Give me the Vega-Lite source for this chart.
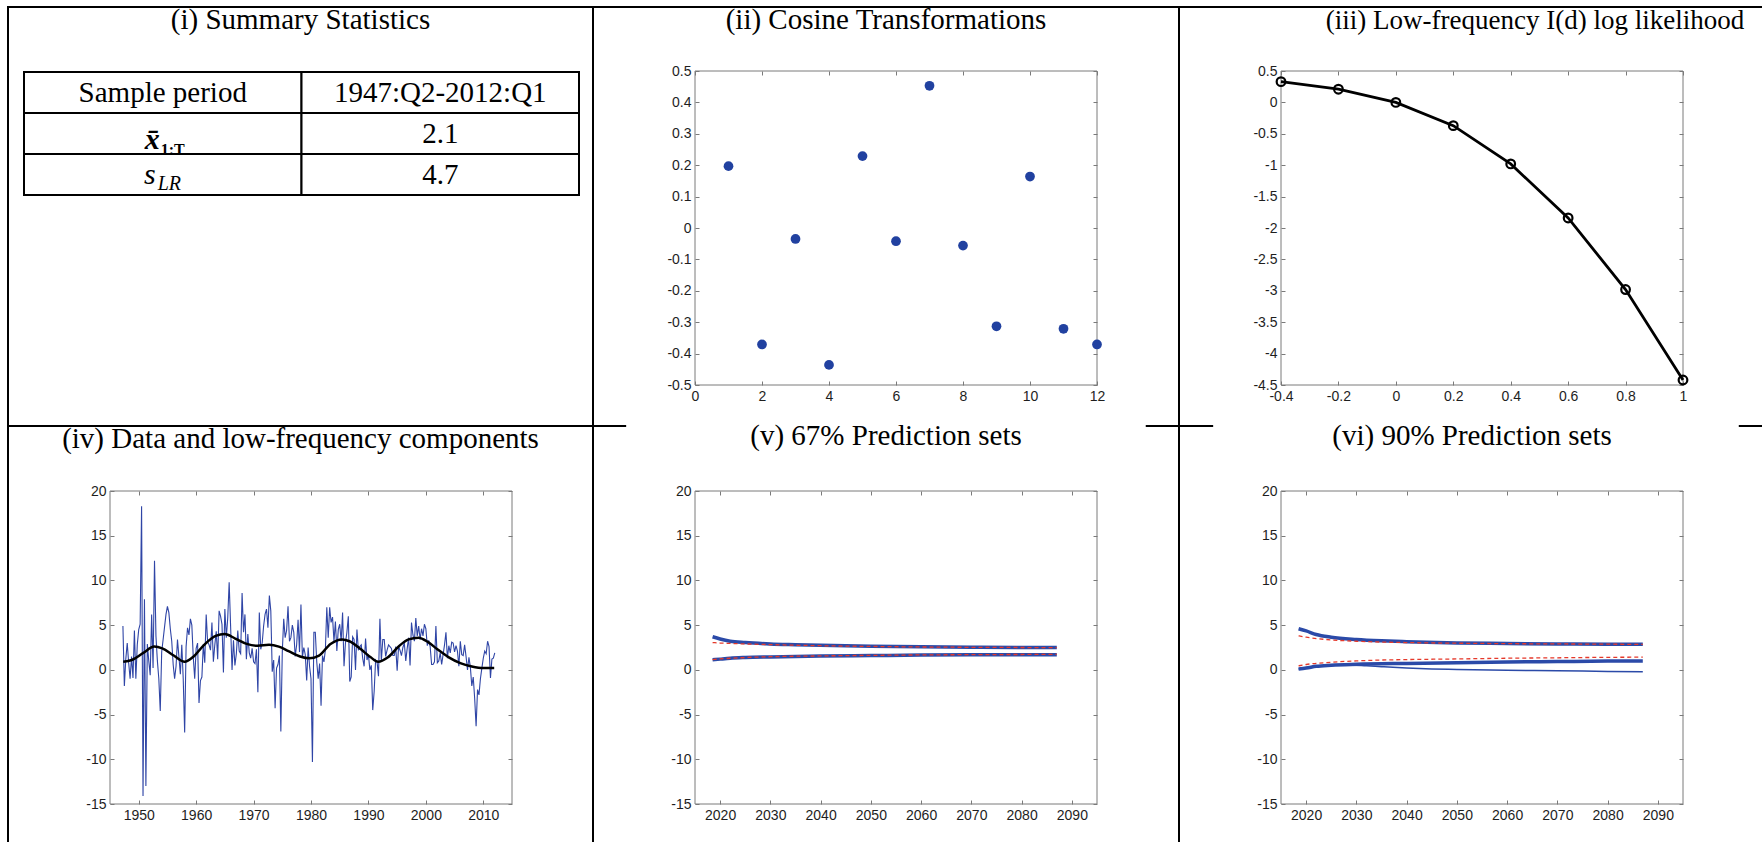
{
  "$schema": "https://vega.github.io/schema/vega-lite/v6.json",
  "background": "white",
  "padding": {"left": 7, "top": 5, "right": 0, "bottom": 0},
  "config": {
    "view": {"stroke": "black", "strokeWidth": 2, "fill": "white"},
    "axis": {"grid": false, "domain": false, "tickColor": "#7a7a7a", "tickSize": -4, "tickWidth": 1, "labelFont": "Liberation Sans", "labelFontSize": 14, "labelColor": "#1e1e1e", "labelPadding": 8, "labelFlush": false, "labelOverlap": false, "format": "~g"},
    "title": {"font": "Liberation Serif", "fontSize": 29, "fontWeight": "normal", "color": "black", "anchor": "middle", "frame": "group", "baseline": "alphabetic", "offset": -28}
  },
  "datasets": {
    "table": [
      {"row": "period", "col": "label", "kind": "plain", "text": "Sample period"},
      {"row": "period", "col": "value", "kind": "plain", "text": "1947:Q2-2012:Q1"},
      {"row": "mean", "col": "label", "kind": "xbar", "text": "x\u0304", "sub": "1:T"},
      {"row": "mean", "col": "value", "kind": "plain", "text": "2.1"},
      {"row": "slr", "col": "label", "kind": "slr", "text": "s", "sub": "LR"},
      {"row": "slr", "col": "value", "kind": "plain", "text": "4.7"}
    ],
    "cosine": [
      {"j": 1, "v": 0.197}, {"j": 2, "v": -0.371}, {"j": 3, "v": -0.035}, {"j": 4, "v": -0.436},
      {"j": 5, "v": 0.229}, {"j": 6, "v": -0.042}, {"j": 7, "v": 0.453}, {"j": 8, "v": -0.056},
      {"j": 9, "v": -0.313}, {"j": 10, "v": 0.164}, {"j": 11, "v": -0.321}, {"j": 12, "v": -0.371}
    ],
    "loglik": [
      {"d": -0.4, "ll": 0.33}, {"d": -0.2, "ll": 0.21}, {"d": 0, "ll": 0}, {"d": 0.2, "ll": -0.37},
      {"d": 0.4, "ll": -0.98}, {"d": 0.6, "ll": -1.84}, {"d": 0.8, "ll": -2.98}, {"d": 1, "ll": -4.42}
    ],
    "growth": [
      {"t":1947.25,"v":4.9},{"t":1947.5,"v":-1.8},{"t":1947.75,"v":1.2},
      {"t":1948,"v":3.0},{"t":1948.25,"v":0.8},{"t":1948.5,"v":-1.0},{"t":1948.75,"v":1.5},
      {"t":1949,"v":-0.9},{"t":1949.25,"v":4.4},{"t":1949.5,"v":-1.0},{"t":1949.75,"v":2.8},
      {"t":1950,"v":4.5},{"t":1950.25,"v":5.1},{"t":1950.5,"v":18.3},{"t":1950.75,"v":-14.1},
      {"t":1951,"v":7.9},{"t":1951.25,"v":-13.0},{"t":1951.5,"v":2.9},{"t":1951.75,"v":1.0},
      {"t":1952,"v":-0.6},{"t":1952.25,"v":6.2},{"t":1952.5,"v":0.2},{"t":1952.75,"v":12.2},
      {"t":1953,"v":3.8},{"t":1953.25,"v":1.0},{"t":1953.5,"v":-1.0},{"t":1953.75,"v":-4.6},
      {"t":1954,"v":2.0},{"t":1954.25,"v":3.4},{"t":1954.5,"v":4.8},{"t":1954.75,"v":6.2},
      {"t":1955,"v":7.1},{"t":1955.25,"v":6.4},{"t":1955.5,"v":4.6},{"t":1955.75,"v":3.2},
      {"t":1956,"v":0.6},{"t":1956.25,"v":-1.0},{"t":1956.5,"v":0.4},{"t":1956.75,"v":3.4},
      {"t":1957,"v":1.5},{"t":1957.25,"v":-0.5},{"t":1957.5,"v":2.8},{"t":1957.75,"v":-1.0},
      {"t":1958,"v":-7.0},{"t":1958.25,"v":2.6},{"t":1958.5,"v":4.7},{"t":1958.75,"v":3.9},
      {"t":1959,"v":5.7},{"t":1959.25,"v":5.0},{"t":1959.5,"v":1.4},{"t":1959.75,"v":-1.0},
      {"t":1960,"v":2.4},{"t":1960.25,"v":3.0},{"t":1960.5,"v":-3.7},{"t":1960.75,"v":-1.2},
      {"t":1961,"v":-0.8},{"t":1961.25,"v":2.9},{"t":1961.5,"v":0.8},{"t":1961.75,"v":6.2},
      {"t":1962,"v":3.1},{"t":1962.25,"v":2.8},{"t":1962.5,"v":2.2},{"t":1962.75,"v":5.3},
      {"t":1963,"v":0.9},{"t":1963.25,"v":2.8},{"t":1963.5,"v":4.3},{"t":1963.75,"v":1.2},
      {"t":1964,"v":6.6},{"t":1964.25,"v":6.0},{"t":1964.5,"v":5.1},{"t":1964.75,"v":-0.3},
      {"t":1965,"v":6.8},{"t":1965.25,"v":3.6},{"t":1965.5,"v":5.8},{"t":1965.75,"v":9.8},
      {"t":1966,"v":4.9},{"t":1966.25,"v":0.0},{"t":1966.5,"v":3.3},{"t":1966.75,"v":0.5},
      {"t":1967,"v":1.8},{"t":1967.25,"v":4.4},{"t":1967.5,"v":2.1},{"t":1967.75,"v":1.8},
      {"t":1968,"v":8.6},{"t":1968.25,"v":4.2},{"t":1968.5,"v":6.2},{"t":1968.75,"v":1.2},
      {"t":1969,"v":4.0},{"t":1969.25,"v":1.9},{"t":1969.5,"v":1.3},{"t":1969.75,"v":2.4},
      {"t":1970,"v":0.9},{"t":1970.25,"v":0.7},{"t":1970.5,"v":2.3},{"t":1970.75,"v":-2.5},
      {"t":1971,"v":6.4},{"t":1971.25,"v":2.3},{"t":1971.5,"v":3.0},{"t":1971.75,"v":4.9},
      {"t":1972,"v":6.2},{"t":1972.25,"v":6.8},{"t":1972.5,"v":4.7},{"t":1972.75,"v":8.3},
      {"t":1973,"v":6.6},{"t":1973.25,"v":-0.2},{"t":1973.5,"v":1.1},{"t":1973.75,"v":-4.3},
      {"t":1974,"v":0.2},{"t":1974.25,"v":0.6},{"t":1974.5,"v":1.6},{"t":1974.75,"v":-6.9},
      {"t":1975,"v":2.0},{"t":1975.25,"v":5.7},{"t":1975.5,"v":3.6},{"t":1975.75,"v":4.4},
      {"t":1976,"v":7.1},{"t":1976.25,"v":3.2},{"t":1976.5,"v":3.6},{"t":1976.75,"v":5.0},
      {"t":1977,"v":4.2},{"t":1977.25,"v":1.5},{"t":1977.5,"v":2.8},{"t":1977.75,"v":5.6},
      {"t":1978,"v":2.0},{"t":1978.25,"v":7.3},{"t":1978.5,"v":1.4},{"t":1978.75,"v":2.5},
      {"t":1979,"v":1.7},{"t":1979.25,"v":-1.2},{"t":1979.5,"v":2.5},{"t":1979.75,"v":0.4},
      {"t":1980,"v":-1.0},{"t":1980.25,"v":-10.3},{"t":1980.5,"v":4.2},{"t":1980.75,"v":4.2},
      {"t":1981,"v":0.9},{"t":1981.25,"v":-1.0},{"t":1981.5,"v":0.7},{"t":1981.75,"v":-4.0},
      {"t":1982,"v":1.6},{"t":1982.25,"v":0.9},{"t":1982.5,"v":2.2},{"t":1982.75,"v":7.0},
      {"t":1983,"v":3.6},{"t":1983.25,"v":7.0},{"t":1983.5,"v":5.3},{"t":1983.75,"v":5.9},
      {"t":1984,"v":3.2},{"t":1984.25,"v":5.4},{"t":1984.5,"v":2.1},{"t":1984.75,"v":4.5},
      {"t":1985,"v":5.1},{"t":1985.25,"v":3.2},{"t":1985.5,"v":6.4},{"t":1985.75,"v":0.4},
      {"t":1986,"v":3.0},{"t":1986.25,"v":4.2},{"t":1986.5,"v":6.0},{"t":1986.75,"v":-1.3},
      {"t":1987,"v":-0.8},{"t":1987.25,"v":3.7},{"t":1987.5,"v":3.4},{"t":1987.75,"v":0.0},
      {"t":1988,"v":4.5},{"t":1988.25,"v":2.2},{"t":1988.5,"v":2.6},{"t":1988.75,"v":2.8},
      {"t":1989,"v":1.3},{"t":1989.25,"v":0.4},{"t":1989.5,"v":3.5},{"t":1989.75,"v":1.1},
      {"t":1990,"v":1.7},{"t":1990.25,"v":0.0},{"t":1990.5,"v":0.5},{"t":1990.75,"v":-4.5},
      {"t":1991,"v":-2.4},{"t":1991.25,"v":1.1},{"t":1991.5,"v":0.9},{"t":1991.75,"v":-0.7},
      {"t":1992,"v":5.7},{"t":1992.25,"v":1.0},{"t":1992.5,"v":3.4},{"t":1992.75,"v":3.4},
      {"t":1993,"v":1.5},{"t":1993.25,"v":2.2},{"t":1993.5,"v":2.8},{"t":1993.75,"v":2.6},
      {"t":1994,"v":2.4},{"t":1994.25,"v":1.6},{"t":1994.5,"v":1.6},{"t":1994.75,"v":2.6},
      {"t":1995,"v":-0.1},{"t":1995.25,"v":2.6},{"t":1995.5,"v":2.2},{"t":1995.75,"v":1.6},
      {"t":1996,"v":2.5},{"t":1996.25,"v":3.0},{"t":1996.5,"v":1.0},{"t":1996.75,"v":2.4},
      {"t":1997,"v":3.6},{"t":1997.25,"v":0.5},{"t":1997.5,"v":5.3},{"t":1997.75,"v":3.9},
      {"t":1998,"v":3.2},{"t":1998.25,"v":5.8},{"t":1998.5,"v":3.8},{"t":1998.75,"v":4.9},
      {"t":1999,"v":3.4},{"t":1999.25,"v":4.6},{"t":1999.5,"v":3.8},{"t":1999.75,"v":5.1},
      {"t":2000,"v":4.6},{"t":2000.25,"v":2.7},{"t":2000.5,"v":3.3},{"t":2000.75,"v":2.6},
      {"t":2001,"v":0.6},{"t":2001.25,"v":0.6},{"t":2001.5,"v":0.9},{"t":2001.75,"v":4.9},
      {"t":2002,"v":0.8},{"t":2002.25,"v":1.0},{"t":2002.5,"v":1.9},{"t":2002.75,"v":0.6},
      {"t":2003,"v":1.7},{"t":2003.25,"v":2.8},{"t":2003.5,"v":4.2},{"t":2003.75,"v":1.3},
      {"t":2004,"v":2.7},{"t":2004.25,"v":1.9},{"t":2004.5,"v":3.1},{"t":2004.75,"v":3.0},
      {"t":2005,"v":2.0},{"t":2005.25,"v":2.7},{"t":2005.5,"v":2.1},{"t":2005.75,"v":0.4},
      {"t":2006,"v":3.2},{"t":2006.25,"v":1.7},{"t":2006.5,"v":1.6},{"t":2006.75,"v":2.8},
      {"t":2007,"v":1.5},{"t":2007.25,"v":0.0},{"t":2007.5,"v":1.4},{"t":2007.75,"v":0.3},
      {"t":2008,"v":-1.8},{"t":2008.25,"v":-0.8},{"t":2008.5,"v":-3.2},{"t":2008.75,"v":-6.3},
      {"t":2009,"v":-2.2},{"t":2009.25,"v":-2.8},{"t":2009.5,"v":-1.0},{"t":2009.75,"v":0.2},
      {"t":2010,"v":1.3},{"t":2010.25,"v":2.1},{"t":2010.5,"v":1.8},{"t":2010.75,"v":3.2},
      {"t":2011,"v":2.6},{"t":2011.25,"v":-0.9},{"t":2011.5,"v":1.2},{"t":2011.75,"v":1.3},
      {"t":2012,"v":1.9}
    ],
    "trend": [
      {"t":1947.3,"v":0.9},{"t":1948.8,"v":1.1},{"t":1950.8,"v":1.9},{"t":1952.7,"v":2.6},
      {"t":1954.1,"v":2.4},{"t":1956.1,"v":1.6},{"t":1958.0,"v":0.9},{"t":1959.4,"v":1.4},
      {"t":1961.4,"v":2.8},{"t":1963.4,"v":3.8},{"t":1965.0,"v":4.0},{"t":1966.8,"v":3.5},
      {"t":1968.8,"v":2.9},{"t":1970.7,"v":2.7},{"t":1972.7,"v":2.8},{"t":1974.4,"v":2.6},
      {"t":1976.1,"v":2.1},{"t":1978.1,"v":1.5},{"t":1979.7,"v":1.3},{"t":1981.4,"v":1.6},
      {"t":1983.4,"v":2.9},{"t":1985.4,"v":3.4},{"t":1986.7,"v":3.2},{"t":1988.7,"v":2.3},
      {"t":1990.4,"v":1.4},{"t":1991.7,"v":0.9},{"t":1993.4,"v":1.4},{"t":1995.4,"v":2.7},
      {"t":1997.0,"v":3.4},{"t":1998.7,"v":3.6},{"t":2000.4,"v":3.1},{"t":2002.0,"v":2.3},
      {"t":2004.0,"v":1.4},{"t":2006.0,"v":0.75},{"t":2008.0,"v":0.38},{"t":2010.0,"v":0.2},
      {"t":2011.9,"v":0.2}
    ],
    "pred67": [
      {"s":"bu","t":2018.5,"v":3.7},{"s":"bu","t":2020,"v":3.45},{"s":"bu","t":2022,"v":3.2},{"s":"bu","t":2025,"v":3.05},{"s":"bu","t":2030,"v":2.9},{"s":"bu","t":2035,"v":2.82},{"s":"bu","t":2040,"v":2.75},{"s":"bu","t":2050,"v":2.65},{"s":"bu","t":2060,"v":2.58},{"s":"bu","t":2070,"v":2.53},{"s":"bu","t":2080,"v":2.5},{"s":"bu","t":2087,"v":2.5},
      {"s":"bl","t":2018.5,"v":1.12},{"s":"bl","t":2020,"v":1.2},{"s":"bl","t":2022,"v":1.3},{"s":"bl","t":2025,"v":1.38},{"s":"bl","t":2030,"v":1.45},{"s":"bl","t":2040,"v":1.55},{"s":"bl","t":2050,"v":1.6},{"s":"bl","t":2060,"v":1.65},{"s":"bl","t":2070,"v":1.68},{"s":"bl","t":2080,"v":1.7},{"s":"bl","t":2087,"v":1.7},
      {"s":"ru","t":2018.5,"v":3.05},{"s":"ru","t":2020,"v":3.0},{"s":"ru","t":2025,"v":2.9},{"s":"ru","t":2030,"v":2.82},{"s":"ru","t":2040,"v":2.7},{"s":"ru","t":2050,"v":2.62},{"s":"ru","t":2060,"v":2.56},{"s":"ru","t":2070,"v":2.52},{"s":"ru","t":2080,"v":2.5},{"s":"ru","t":2087,"v":2.48},
      {"s":"rl","t":2018.5,"v":1.15},{"s":"rl","t":2020,"v":1.22},{"s":"rl","t":2025,"v":1.38},{"s":"rl","t":2030,"v":1.47},{"s":"rl","t":2040,"v":1.56},{"s":"rl","t":2050,"v":1.62},{"s":"rl","t":2060,"v":1.67},{"s":"rl","t":2070,"v":1.7},{"s":"rl","t":2080,"v":1.72},{"s":"rl","t":2087,"v":1.73}
    ],
    "pred90": [
      {"s":"bu","t":2018.5,"v":4.6},{"s":"bu","t":2020,"v":4.35},{"s":"bu","t":2022,"v":3.95},{"s":"bu","t":2025,"v":3.65},{"s":"bu","t":2030,"v":3.4},{"s":"bu","t":2035,"v":3.25},{"s":"bu","t":2040,"v":3.15},{"s":"bu","t":2050,"v":3.0},{"s":"bu","t":2060,"v":2.95},{"s":"bu","t":2070,"v":2.9},{"s":"bu","t":2080,"v":2.85},{"s":"bu","t":2087,"v":2.85},
      {"s":"bl","t":2018.5,"v":0.1},{"s":"bl","t":2020,"v":0.2},{"s":"bl","t":2022,"v":0.4},{"s":"bl","t":2025,"v":0.52},{"s":"bl","t":2030,"v":0.62},{"s":"bl","t":2040,"v":0.72},{"s":"bl","t":2050,"v":0.8},{"s":"bl","t":2060,"v":0.88},{"s":"bl","t":2070,"v":0.93},{"s":"bl","t":2080,"v":0.98},{"s":"bl","t":2087,"v":1.0},
      {"s":"bt","t":2018.5,"v":0.1},{"s":"bt","t":2022,"v":0.4},{"s":"bt","t":2025,"v":0.5},{"s":"bt","t":2028,"v":0.55},{"s":"bt","t":2032,"v":0.45},{"s":"bt","t":2035,"v":0.35},{"s":"bt","t":2040,"v":0.2},{"s":"bt","t":2045,"v":0.1},{"s":"bt","t":2050,"v":0.05},{"s":"bt","t":2060,"v":-0.05},{"s":"bt","t":2070,"v":-0.1},{"s":"bt","t":2080,"v":-0.18},{"s":"bt","t":2087,"v":-0.22},
      {"s":"ru","t":2018.5,"v":3.8},{"s":"ru","t":2020,"v":3.65},{"s":"ru","t":2025,"v":3.35},{"s":"ru","t":2030,"v":3.2},{"s":"ru","t":2040,"v":3.05},{"s":"ru","t":2050,"v":2.98},{"s":"ru","t":2060,"v":2.93},{"s":"ru","t":2070,"v":2.9},{"s":"ru","t":2080,"v":2.87},{"s":"ru","t":2087,"v":2.85},
      {"s":"rl","t":2018.5,"v":0.45},{"s":"rl","t":2020,"v":0.6},{"s":"rl","t":2025,"v":0.85},{"s":"rl","t":2030,"v":1.0},{"s":"rl","t":2035,"v":1.1},{"s":"rl","t":2040,"v":1.15},{"s":"rl","t":2050,"v":1.22},{"s":"rl","t":2060,"v":1.3},{"s":"rl","t":2070,"v":1.35},{"s":"rl","t":2080,"v":1.4},{"s":"rl","t":2087,"v":1.42}
    ]
  },
  "columns": 3,
  "spacing": 0,
  "bounds": "flush",
  "concat": [
    {
      "width": 585, "height": 419,
      "title": {"text": "(i) Summary Statistics"},
      "data": {"name": "table"},
      "layer": [
        {
          "mark": {"type": "rect", "fill": "white", "stroke": "black", "strokeWidth": 2},
          "encoding": {
            "x": {"field": "col", "type": "nominal", "scale": {"domain": ["label", "value"], "range": [16, 571], "paddingInner": 0, "paddingOuter": 0}, "axis": null},
            "y": {"field": "row", "type": "nominal", "scale": {"domain": ["period", "mean", "slr"], "range": [65, 188], "paddingInner": 0, "paddingOuter": 0}, "axis": null}
          }
        },
        {
          "transform": [{"filter": "datum.kind == 'plain'"}],
          "mark": {"type": "text", "font": "Liberation Serif", "fontSize": 29, "color": "black", "baseline": "middle"},
          "encoding": {
            "x": {"field": "col", "type": "nominal", "axis": null},
            "y": {"field": "row", "type": "nominal", "axis": null},
            "text": {"field": "text"}
          }
        },
        {
          "transform": [{"filter": "datum.kind == 'xbar'"}],
          "mark": {"type": "text", "font": "Liberation Serif", "fontSize": 30, "fontStyle": "italic", "fontWeight": "bold", "color": "black", "align": "right", "baseline": "alphabetic", "dx": -3, "dy": 15},
          "encoding": {
            "x": {"field": "col", "type": "nominal", "axis": null},
            "y": {"field": "row", "type": "nominal", "axis": null},
            "text": {"field": "text"}
          }
        },
        {
          "transform": [{"filter": "datum.kind == 'xbar'"}],
          "mark": {"type": "text", "font": "Liberation Serif", "fontSize": 16, "fontWeight": "bold", "color": "black", "align": "left", "baseline": "alphabetic", "dx": -2, "dy": 21},
          "encoding": {
            "x": {"field": "col", "type": "nominal", "axis": null},
            "y": {"field": "row", "type": "nominal", "axis": null},
            "text": {"field": "sub"}
          }
        },
        {
          "transform": [{"filter": "datum.kind == 'slr'"}],
          "mark": {"type": "text", "font": "Liberation Serif", "fontSize": 30, "fontStyle": "italic", "color": "black", "align": "right", "baseline": "alphabetic", "dx": -7, "dy": 9},
          "encoding": {
            "x": {"field": "col", "type": "nominal", "axis": null},
            "y": {"field": "row", "type": "nominal", "axis": null},
            "text": {"field": "text"}
          }
        },
        {
          "transform": [{"filter": "datum.kind == 'slr'"}],
          "mark": {"type": "text", "font": "Liberation Serif", "fontSize": 20, "fontStyle": "italic", "color": "black", "align": "left", "baseline": "alphabetic", "dx": -5, "dy": 15},
          "encoding": {
            "x": {"field": "col", "type": "nominal", "axis": null},
            "y": {"field": "row", "type": "nominal", "axis": null},
            "text": {"field": "sub"}
          }
        }
      ]
    },
    {
      "width": 586, "height": 419,
      "title": {"text": "(ii) Cosine Transformations"},
      "layer": [
        {
          "data": {"values": [{}]},
          "mark": {"type": "rect", "fill": null, "stroke": "#7a7a7a", "strokeWidth": 1},
          "encoding": {
            "x": {"datum": 0, "type": "quantitative", "scale": {"domain": [0, 12], "range": [102, 504], "nice": false, "zero": false},
                  "axis": {"orient": "top", "labels": false, "values": [0, 2, 4, 6, 8, 10, 12], "offset": -64, "title": null}},
            "x2": {"datum": 12},
            "y": {"datum": -0.5, "type": "quantitative", "scale": {"domain": [-0.5, 0.5], "range": [378, 64], "nice": false, "zero": false},
                  "axis": {"orient": "right", "labels": false, "values": [-0.5, -0.4, -0.3, -0.2, -0.1, 0, 0.1, 0.2, 0.3, 0.4, 0.5], "offset": -82, "title": null}},
            "y2": {"datum": 0.5}
          }
        },
        {
          "data": {"name": "cosine"},
          "mark": {"type": "circle", "size": 95, "color": "#2141a0", "opacity": 1},
          "encoding": {
            "x": {"field": "j", "type": "quantitative",
                  "axis": {"orient": "bottom", "values": [0, 2, 4, 6, 8, 10, 12], "offset": -41, "title": null, "labelExpr": "replace(datum.label, '\u2212', '-')"}},
            "y": {"field": "v", "type": "quantitative",
                  "axis": {"orient": "left", "values": [-0.5, -0.4, -0.3, -0.2, -0.1, 0, 0.1, 0.2, 0.3, 0.4, 0.5], "offset": -102, "title": null, "labelExpr": "replace(datum.label, '\u2212', '-')"}}
          }
        }
      ]
    },
    {
      "width": 586, "height": 419,
      "title": {"text": "(iii) Low-frequency I(d) log likelihood", "fontSize": 27, "dx": 63},
      "layer": [
        {
          "data": {"values": [{}]},
          "mark": {"type": "rect", "fill": null, "stroke": "#7a7a7a", "strokeWidth": 1},
          "encoding": {
            "x": {"datum": -0.4, "type": "quantitative", "scale": {"domain": [-0.4, 1], "range": [102, 504], "nice": false, "zero": false},
                  "axis": {"orient": "top", "labels": false, "values": [-0.4, -0.2, 0, 0.2, 0.4, 0.6, 0.8, 1], "offset": -64, "title": null}},
            "x2": {"datum": 1},
            "y": {"datum": -4.5, "type": "quantitative", "scale": {"domain": [-4.5, 0.5], "range": [378, 64], "nice": false, "zero": false},
                  "axis": {"orient": "right", "labels": false, "values": [-4.5, -4, -3.5, -3, -2.5, -2, -1.5, -1, -0.5, 0, 0.5], "offset": -82, "title": null}},
            "y2": {"datum": 0.5}
          }
        },
        {
          "data": {"name": "loglik"},
          "mark": {"type": "line", "color": "black", "strokeWidth": 2.8, "point": {"filled": false, "fill": null, "stroke": "black", "strokeWidth": 2.2, "size": 75}},
          "encoding": {
            "x": {"field": "d", "type": "quantitative",
                  "axis": {"orient": "bottom", "values": [-0.4, -0.2, 0, 0.2, 0.4, 0.6, 0.8, 1], "offset": -41, "title": null, "labelExpr": "replace(datum.label, '\u2212', '-')"}},
            "y": {"field": "ll", "type": "quantitative",
                  "axis": {"orient": "left", "values": [-4.5, -4, -3.5, -3, -2.5, -2, -1.5, -1, -0.5, 0, 0.5], "offset": -102, "title": null, "labelExpr": "replace(datum.label, '\u2212', '-')"}}
          }
        }
      ]
    },
    {
      "width": 585, "height": 440,
      "title": {"text": "(iv) Data and low-frequency components"},
      "layer": [
        {
          "data": {"values": [{}]},
          "mark": {"type": "rect", "fill": null, "stroke": "#7a7a7a", "strokeWidth": 1},
          "encoding": {
            "x": {"datum": 1945, "type": "quantitative", "scale": {"domain": [1945, 2015], "range": [102, 504], "nice": false, "zero": false},
                  "axis": {"orient": "top", "labels": false, "values": [1950, 1960, 1970, 1980, 1990, 2000, 2010], "offset": -65, "title": null}},
            "x2": {"datum": 2015},
            "y": {"datum": -15, "type": "quantitative", "scale": {"domain": [-15, 20], "range": [378, 65], "nice": false, "zero": false},
                  "axis": {"orient": "right", "labels": false, "values": [-15, -10, -5, 0, 5, 10, 15, 20], "offset": -81, "title": null}},
            "y2": {"datum": 20}
          }
        },
        {
          "data": {"name": "growth"},
          "mark": {"type": "line", "color": "#2f45a6", "strokeWidth": 1.1},
          "encoding": {
            "x": {"field": "t", "type": "quantitative",
                  "axis": {"orient": "bottom", "values": [1950, 1960, 1970, 1980, 1990, 2000, 2010], "format": "d", "offset": -62, "title": null}},
            "y": {"field": "v", "type": "quantitative",
                  "axis": {"orient": "left", "values": [-15, -10, -5, 0, 5, 10, 15, 20], "format": "d", "offset": -102, "title": null, "labelExpr": "replace(datum.label, '\u2212', '-')"}}
          }
        },
        {
          "data": {"name": "trend"},
          "mark": {"type": "line", "color": "black", "strokeWidth": 2.5, "interpolate": "monotone"},
          "encoding": {
            "x": {"field": "t", "type": "quantitative", "axis": null},
            "y": {"field": "v", "type": "quantitative", "axis": null}
          }
        }
      ]
    },
    {
      "width": 586, "height": 440,
      "title": {"text": "(v) 67% Prediction sets"},
      "layer": [
        {
          "data": {"values": [{}]},
          "mark": {"type": "rect", "fill": "white", "stroke": null},
          "encoding": {
            "x": {"datum": 2001.3, "type": "quantitative", "scale": {"domain": [2015, 2095], "range": [102, 504], "nice": false, "zero": false}, "axis": null},
            "x2": {"datum": 2104.7},
            "y": {"datum": 27.0, "type": "quantitative", "scale": {"domain": [-15, 20], "range": [378, 65], "nice": false, "zero": false}, "axis": null},
            "y2": {"datum": 27.6}
          }
        },
        {
          "data": {"values": [{}]},
          "mark": {"type": "rect", "fill": null, "stroke": "#7a7a7a", "strokeWidth": 1},
          "encoding": {
            "x": {"datum": 2015, "type": "quantitative",
                  "axis": {"orient": "top", "labels": false, "values": [2020, 2030, 2040, 2050, 2060, 2070, 2080, 2090], "offset": -65, "title": null}},
            "x2": {"datum": 2095},
            "y": {"datum": -15, "type": "quantitative",
                  "axis": {"orient": "right", "labels": false, "values": [-15, -10, -5, 0, 5, 10, 15, 20], "offset": -82, "title": null}},
            "y2": {"datum": 20}
          }
        },
        {
          "data": {"name": "pred67"},
          "transform": [{"filter": "datum.s == 'bu' || datum.s == 'bl'"}],
          "mark": {"type": "line", "color": "#2b4aa8", "strokeWidth": 3.5, "interpolate": "monotone"},
          "encoding": {
            "x": {"field": "t", "type": "quantitative",
                  "axis": {"orient": "bottom", "values": [2020, 2030, 2040, 2050, 2060, 2070, 2080, 2090], "format": "d", "offset": -62, "title": null}},
            "y": {"field": "v", "type": "quantitative",
                  "axis": {"orient": "left", "values": [-15, -10, -5, 0, 5, 10, 15, 20], "format": "d", "offset": -102, "title": null, "labelExpr": "replace(datum.label, '\u2212', '-')"}},
            "detail": {"field": "s"}
          }
        },
        {
          "data": {"name": "pred67"},
          "transform": [{"filter": "datum.s == 'ru' || datum.s == 'rl'"}],
          "mark": {"type": "line", "color": "#e5392b", "strokeWidth": 1.3, "strokeDash": [4, 3], "interpolate": "monotone"},
          "encoding": {
            "x": {"field": "t", "type": "quantitative", "axis": null},
            "y": {"field": "v", "type": "quantitative", "axis": null},
            "detail": {"field": "s"}
          }
        }
      ]
    },
    {
      "width": 586, "height": 440,
      "title": {"text": "(vi) 90% Prediction sets"},
      "layer": [
        {
          "data": {"values": [{}]},
          "mark": {"type": "rect", "fill": "white", "stroke": null},
          "encoding": {
            "x": {"datum": 2001.5, "type": "quantitative", "scale": {"domain": [2015, 2095], "range": [102, 504], "nice": false, "zero": false}, "axis": null},
            "x2": {"datum": 2106.1},
            "y": {"datum": 27.0, "type": "quantitative", "scale": {"domain": [-15, 20], "range": [378, 65], "nice": false, "zero": false}, "axis": null},
            "y2": {"datum": 27.6}
          }
        },
        {
          "data": {"values": [{}]},
          "mark": {"type": "rect", "fill": null, "stroke": "#7a7a7a", "strokeWidth": 1},
          "encoding": {
            "x": {"datum": 2015, "type": "quantitative",
                  "axis": {"orient": "top", "labels": false, "values": [2020, 2030, 2040, 2050, 2060, 2070, 2080, 2090], "offset": -65, "title": null}},
            "x2": {"datum": 2095},
            "y": {"datum": -15, "type": "quantitative",
                  "axis": {"orient": "right", "labels": false, "values": [-15, -10, -5, 0, 5, 10, 15, 20], "offset": -82, "title": null}},
            "y2": {"datum": 20}
          }
        },
        {
          "data": {"name": "pred90"},
          "transform": [{"filter": "datum.s == 'bu' || datum.s == 'bl'"}],
          "mark": {"type": "line", "color": "#2b4aa8", "strokeWidth": 3.5, "interpolate": "monotone"},
          "encoding": {
            "x": {"field": "t", "type": "quantitative",
                  "axis": {"orient": "bottom", "values": [2020, 2030, 2040, 2050, 2060, 2070, 2080, 2090], "format": "d", "offset": -62, "title": null}},
            "y": {"field": "v", "type": "quantitative",
                  "axis": {"orient": "left", "values": [-15, -10, -5, 0, 5, 10, 15, 20], "format": "d", "offset": -102, "title": null, "labelExpr": "replace(datum.label, '\u2212', '-')"}},
            "detail": {"field": "s"}
          }
        },
        {
          "data": {"name": "pred90"},
          "transform": [{"filter": "datum.s == 'bt'"}],
          "mark": {"type": "line", "color": "#2b4aa8", "strokeWidth": 1.5, "interpolate": "monotone"},
          "encoding": {
            "x": {"field": "t", "type": "quantitative", "axis": null},
            "y": {"field": "v", "type": "quantitative", "axis": null}
          }
        },
        {
          "data": {"name": "pred90"},
          "transform": [{"filter": "datum.s == 'ru' || datum.s == 'rl'"}],
          "mark": {"type": "line", "color": "#e5392b", "strokeWidth": 1.3, "strokeDash": [4, 3], "interpolate": "monotone"},
          "encoding": {
            "x": {"field": "t", "type": "quantitative", "axis": null},
            "y": {"field": "v", "type": "quantitative", "axis": null},
            "detail": {"field": "s"}
          }
        }
      ]
    }
  ]
}
